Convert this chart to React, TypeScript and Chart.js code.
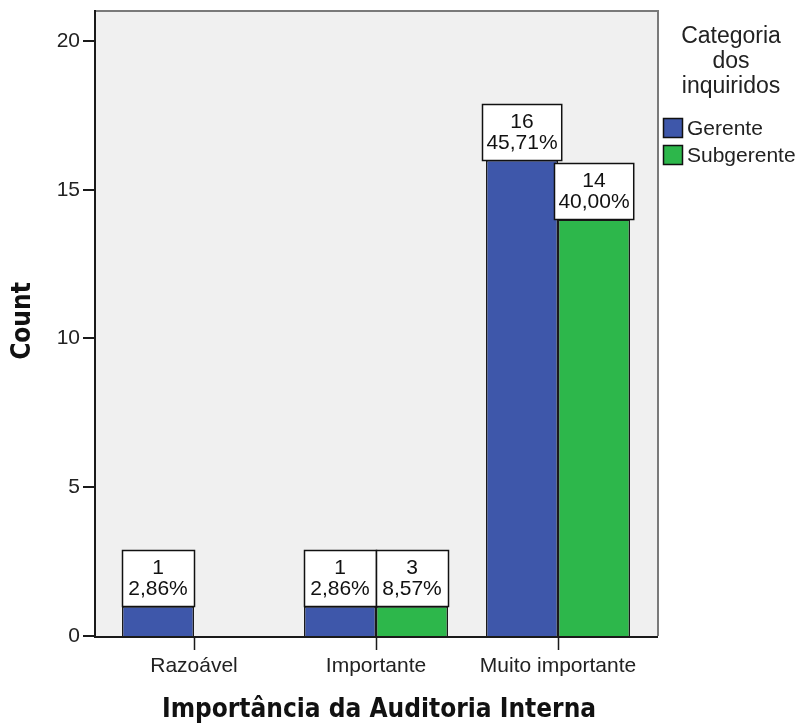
import React, { useEffect, useRef } from "react";
import { Chart, registerables } from "chart.js";

Chart.register(...registerables);

const categories = ["Razoável", "Importante", "Muito importante"];
const seriesNames = ["Gerente", "Subgerente"];
const gerenteValues = [1, 1, 16];
const subgerenteValues: (number | null)[] = [null, 1, 14];
const gerenteCountLabels = ["1", "1", "16"];
const gerentePctLabels = ["2,86%", "2,86%", "45,71%"];
const subgerenteCountLabels = ["", "3", "14"];
const subgerentePctLabels = ["", "8,57%", "40,00%"];
const yTickValues = [0, 5, 10, 15, 20];
const yMax = 21.04;
const legendTitleLines = ["Categoria", "dos", "inquiridos"];
const xTitle = "Importância da Auditoria Interna";
const yTitle = "Count";

const BLUE = "rgb(62,87,170)";
const GREEN = "rgb(45,183,75)";
const SANS = "'Liberation Sans', Arial, sans-serif";
const TITLE_FONT = "bold 26px 'DejaVu Sans Condensed', 'DejaVu Sans', sans-serif";

const decorPlugin = {
  id: "decor",
  beforeDraw(chart: any) {
    const { ctx, chartArea } = chart;
    ctx.save();
    ctx.fillStyle = "#f0f0f0";
    ctx.fillRect(94, chartArea.top, 658 - 94, chartArea.bottom - chartArea.top);
    ctx.restore();
  },
  afterDatasetsDraw(chart: any) {
    const { ctx, chartArea, scales } = chart;
    const y = scales.y;
    const x = scales.x;
    ctx.save();
    ctx.strokeStyle = "#7a7a7a";
    ctx.lineWidth = 2;
    ctx.beginPath();
    ctx.moveTo(94, chartArea.top + 1);
    ctx.lineTo(658, chartArea.top + 1);
    ctx.lineTo(658, chartArea.bottom);
    ctx.stroke();
    ctx.strokeStyle = "#1a1a1a";
    ctx.lineWidth = 2;
    ctx.beginPath();
    ctx.moveTo(95, chartArea.top);
    ctx.lineTo(95, chartArea.bottom + 1);
    ctx.lineTo(658, chartArea.bottom + 1);
    ctx.stroke();
    ctx.lineWidth = 2;
    ctx.beginPath();
    for (const v of yTickValues) {
      const py = Math.round(y.getPixelForValue(v));
      ctx.moveTo(83, py);
      ctx.lineTo(95, py);
    }
    ctx.stroke();
    ctx.lineWidth = 1.5;
    ctx.beginPath();
    categories.forEach((_, i) => {
      const px = Math.round(x.getPixelForValue(i)) + 0.5;
      ctx.moveTo(px, chartArea.bottom);
      ctx.lineTo(px, chartArea.bottom + 14);
    });
    ctx.stroke();

    const labelSets = [
      [gerenteCountLabels, gerentePctLabels],
      [subgerenteCountLabels, subgerentePctLabels],
    ];
    ctx.font = `21px ${SANS}`;
    chart.data.datasets.forEach((ds: any, di: number) => {
      const meta = chart.getDatasetMeta(di);
      meta.data.forEach((el: any, i: number) => {
        const v = ds.data[i];
        if (v === null || v === undefined) return;
        const l1 = labelSets[di][0][i];
        const l2 = labelSets[di][1][i];
        const tw = Math.max(ctx.measureText(l1).width, ctx.measureText(l2).width);
        const bw = Math.max(el.width, tw + 8);
        const bh = 56;
        const bx = Math.round(el.x - bw / 2) + 0.5;
        const by = Math.round(el.y - bh) + 0.5;
        ctx.fillStyle = "#ffffff";
        ctx.fillRect(bx, by, bw, bh);
        ctx.strokeStyle = "#111";
        ctx.lineWidth = 1.5;
        ctx.strokeRect(bx, by, bw, bh);
        ctx.fillStyle = "#111";
        ctx.textAlign = "center";
        ctx.textBaseline = "middle";
        ctx.fillText(l1, el.x, by + 18);
        ctx.fillText(l2, el.x, by + 39);
      });
    });
    ctx.restore();
  },
  afterDraw(chart: any) {
    const { ctx } = chart;
    ctx.save();
    ctx.fillStyle = "#111";
    ctx.font = TITLE_FONT;
    ctx.textAlign = "center";
    ctx.textBaseline = "middle";
    ctx.fillText(xTitle, 379, 710);
    ctx.translate(23, 321);
    ctx.rotate(-Math.PI / 2);
    ctx.fillText(yTitle, 0, 0);
    ctx.restore();

    ctx.save();
    ctx.fillStyle = "#222";
    ctx.textAlign = "center";
    ctx.textBaseline = "middle";
    ctx.font = `23px ${SANS}`;
    legendTitleLines.forEach((t, i) => ctx.fillText(t, 731, 37 + i * 25));
    const colors = [BLUE, GREEN];
    ctx.font = `21px ${SANS}`;
    ctx.textAlign = "left";
    seriesNames.forEach((n, i) => {
      const top = 118 + i * 27;
      ctx.fillStyle = colors[i];
      ctx.fillRect(663, top, 20, 20);
      ctx.strokeStyle = "#111";
      ctx.lineWidth = 1.5;
      ctx.strokeRect(663.5, top + 0.5, 19, 19);
      ctx.fillStyle = "#222";
      ctx.fillText(n, 687, top + 11);
    });
    ctx.restore();
  },
};

export default function App() {
  const ref = useRef<HTMLCanvasElement>(null);
  useEffect(() => {
    if (!ref.current) return;
    const chart = new Chart(ref.current, {
      type: "bar",
      data: {
        labels: categories,
        datasets: [
          {
            label: seriesNames[0],
            data: gerenteValues,
            backgroundColor: BLUE,
            borderColor: "#1a1a1a",
            borderWidth: 1.5,
          },
          {
            label: seriesNames[1],
            data: subgerenteValues,
            backgroundColor: GREEN,
            borderColor: "#1a1a1a",
            borderWidth: 1.5,
          },
        ],
      },
      options: {
        responsive: false,
        animation: false,
        layout: { padding: { left: 0, top: 10, right: 154, bottom: 0 } },
        plugins: { legend: { display: false }, tooltip: { enabled: false } },
        datasets: { bar: { barPercentage: 1, categoryPercentage: 144 / 182 } },
        scales: {
          x: {
            grid: { display: false, drawTicks: false },
            border: { display: false },
            ticks: {
              padding: 18,
              color: "#222",
              font: { family: SANS, size: 21 },
              maxRotation: 0,
            },
            afterFit: (s: any) => {
              s.height = 92;
              s.paddingLeft = 0;
              s.paddingRight = 0;
            },
          },
          y: {
            min: 0,
            max: yMax,
            grid: { display: false, drawTicks: false },
            border: { display: false },
            ticks: {
              stepSize: 5,
              includeBounds: false,
              padding: 23,
              color: "#222",
              font: { family: SANS, size: 21 },
            },
            afterFit: (s: any) => {
              s.width = 103;
              s.paddingTop = 0;
              s.paddingBottom = 0;
            },
          },
        },
      },
      plugins: [decorPlugin],
    });
    return () => chart.destroy();
  }, []);
  return (
    <div style={{ position: "fixed", left: 0, top: 0, width: 803, height: 728, background: "#fff" }}>
      <canvas ref={ref} width={803} height={728} />
    </div>
  );
}
